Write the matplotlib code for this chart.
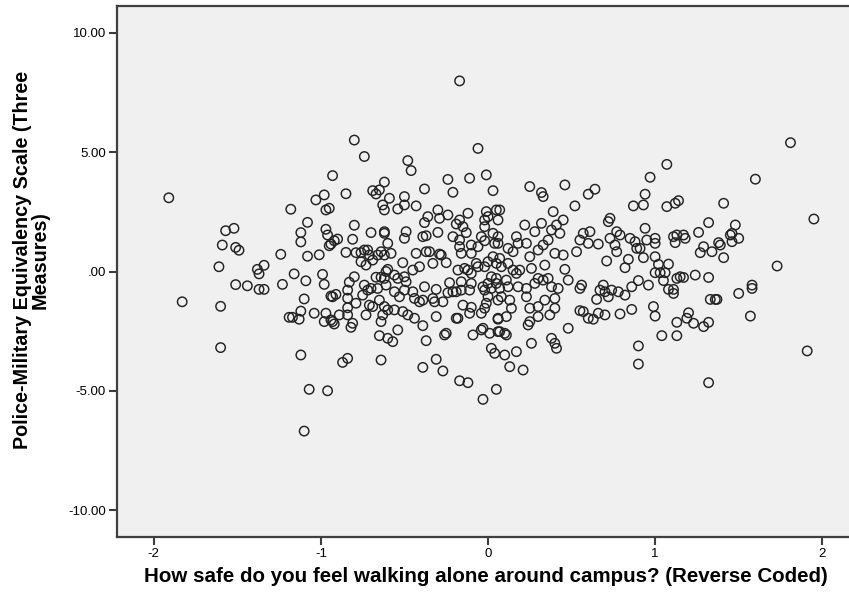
import matplotlib
matplotlib.use("Agg")
import matplotlib.pyplot as plt
import numpy as np

# safety (reverse coded), police-military equivalency scale
safety = [
    -1.91, -1.57, -1.52, -1.59, -1.51, -1.49, -1.61, -1.38, -1.37, -1.51, -1.44, -1.37, -1.83, -1.60, -1.60,
    -0.80, -0.93, -0.85, -1.03, -0.98, -1.18, -0.97, -0.95, -1.08, -1.12, -1.12, -0.97, -0.96, -0.90, -0.92,
    -0.95, -0.94, -0.81, -0.80, -0.85, -0.79, -1.24, -1.08, -1.01, -1.34, -1.34, -1.23, -1.16, -1.09, -0.99,
    -0.98, -1.10, -1.12, -1.19, -1.17, -1.13, -1.04, -0.97, -0.98, -0.94, -0.91, -0.93, -0.94, -0.92, -0.93,
    -0.89, -0.84, -0.84, -0.84, -0.84, -0.83, -0.80, -0.82, -0.81, -0.79, -1.12, -0.87, -0.84, -1.07, -0.96, -1.10,
    -0.74, -0.48, -0.46, -0.62, -0.69, -0.67, -0.65, -0.59, -0.50, -0.50, -0.43, -0.38, -0.63, -0.62, -0.54,
    -0.70, -0.62, -0.62, -0.49, -0.50, -0.38, -0.36, -0.39, -0.37, -0.60, -0.76, -0.74, -0.72, -0.71, -0.76,
    -0.73, -0.69, -0.66, -0.64, -0.62, -0.58, -0.51, -0.43, -0.41, -0.37, -0.45, -0.60, -0.62, -0.61, -0.56,
    -0.54, -0.50, -0.49, -0.67, -0.64, -0.74, -0.72, -0.70, -0.75, -0.66, -0.61, -0.56, -0.53, -0.50, -0.45,
    -0.44, -0.41, -0.39, -0.38, -0.71, -0.69, -0.73, -0.65, -0.62, -0.60, -0.56, -0.63, -0.64, -0.51, -0.48,
    -0.44, -0.39, -0.54, -0.65, -0.60, -0.57, -0.37, -0.64, -0.39,
    -0.17, -0.06, -0.01, -0.24, -0.11, -0.21, 0.03, -0.30, -0.29, -0.24, -0.30, -0.21, -0.12, -0.17, -0.19,
    -0.15, -0.13, -0.01, 0.00, -0.02, -0.02, 0.05, 0.06, -0.04, -0.02, -0.06, 0.03, 0.04, -0.17, -0.17,
    -0.16, -0.10, -0.10, -0.35, -0.33, -0.29, -0.28, -0.25, -0.18, -0.14, -0.12, -0.10, -0.07, -0.06, -0.02,
    0.00, 0.03, 0.05, -0.16, -0.10, -0.11, -0.16, -0.15, -0.10, -0.11, -0.23, -0.21, -0.24, -0.19, -0.31,
    -0.33, -0.32, -0.27, -0.31, -0.26, -0.25, -0.19, -0.18, -0.04, -0.02, -0.01, 0.00, -0.03, -0.02, 0.02,
    0.02, 0.00, 0.05, 0.06, -0.09, -0.04, -0.03, 0.01, 0.06, 0.06, 0.02, 0.04, -0.31, -0.27, -0.17,
    -0.12, -0.03, 0.05,
    0.25, 0.32, 0.33, 0.46, 0.07, 0.39, 0.45, 0.41, 0.43, 0.38, 0.36, 0.32, 0.28, 0.22, 0.06,
    0.06, 0.17, 0.18, 0.23, 0.12, 0.15, 0.25, 0.30, 0.33, 0.40, 0.45, 0.07, 0.08, 0.12, 0.15,
    0.17, 0.19, 0.26, 0.34, 0.46, 0.48, 0.05, 0.07, 0.11, 0.12, 0.18, 0.23, 0.28, 0.30, 0.33,
    0.36, 0.38, 0.42, 0.08, 0.13, 0.14, 0.23, 0.25, 0.30, 0.34, 0.40, 0.40, 0.37, 0.30, 0.25,
    0.24, 0.06, 0.11, 0.07, 0.10, 0.11, 0.48, 0.26, 0.38, 0.40, 0.41, 0.10, 0.17, 0.13, 0.21,
    0.60, 0.64, 0.52, 0.73, 0.72, 0.87, 0.57, 0.61, 0.55, 0.60, 0.66, 0.53, 0.73, 0.77, 0.79,
    0.76, 0.77, 0.85, 0.88, 0.89, 0.71, 0.84, 0.82, 0.55, 0.56, 0.67, 0.69, 0.70, 0.74, 0.78,
    0.82, 0.86, 0.90, 0.65, 0.72, 0.55, 0.57, 0.60, 0.63, 0.66, 0.70, 0.79, 0.86, 0.90, 0.90,
    1.07, 0.97, 0.94, 0.93, 1.07, 1.12, 1.14, 0.94, 0.91, 0.93, 0.95, 1.00, 1.00, 1.11, 1.13,
    1.12, 1.17, 1.18, 1.26, 1.27, 1.29, 1.32, 1.00, 1.02, 1.08, 1.00, 1.03, 1.06, 1.05, 1.08,
    1.11, 1.11, 1.13, 1.15, 1.17, 1.24, 1.32, 0.96, 0.99, 1.00, 1.20, 1.19, 1.13, 1.23, 1.29,
    1.32, 1.04, 1.13, 1.32,
    1.81, 1.60, 1.41, 1.95, 1.48, 1.46, 1.45, 1.50, 1.46, 1.38, 1.39, 1.34, 1.41, 1.73, 1.33,
    1.36, 1.37, 1.50, 1.58, 1.58, 1.57, 1.91,
]
equivalency = [
    3.09, 1.71, 1.81, 1.11, 1.01, 0.89, 0.20, 0.09, -0.10, -0.55, -0.60, -0.75, -1.27, -1.46, -3.19,
    5.51, 4.02, 3.26, 3.00, 3.21, 2.61, 2.58, 2.65, 2.06, 1.63, 1.24, 1.77, 1.53, 1.36, 1.29,
    1.08, 1.15, 1.35, 1.94, 0.80, 0.79, 0.72, 0.64, 0.70, 0.26, -0.75, -0.54, -0.10, -0.39, -0.12,
    -0.54, -1.15, -1.66, -1.92, -1.92, -2.00, -1.75, -1.75, -2.10, -1.03, -0.96, -1.06, -2.03, -2.20, -2.10,
    -1.82, -0.78, -1.12, -1.52, -1.82, -0.45, -0.22, -2.34, -2.17, -1.33, -3.50, -3.81, -3.64, -4.94, -5.00, -6.69,
    4.82, 4.65, 4.23, 3.75, 3.39, 3.25, 3.42, 3.07, 3.14, 2.79, 2.75, 3.46, 2.79, 2.58, 2.62,
    1.63, 1.67, 1.60, 1.67, 1.39, 2.05, 2.30, 1.46, 1.50, 1.18, 0.79, 0.90, 0.90, 0.69, 0.41,
    0.27, 0.48, 0.69, 0.83, 0.69, 0.76, 0.37, 0.76, 0.20, 0.83, 0.06, 0.09, -0.29, 0.00, -0.15,
    -0.29, -0.22, -0.43, -0.24, -0.24, -0.57, -0.78, -0.71, -0.99, -0.71, -0.57, -0.85, -1.06, -0.78, -0.85,
    -1.13, -1.27, -1.20, -0.64, -1.41, -1.47, -1.82, -1.20, -1.47, -1.61, -1.61, -1.82, -2.10, -1.68, -1.82,
    -1.96, -2.27, -2.45, -2.69, -2.80, -2.94, -2.90, -3.71, -4.02,
    7.99, 5.16, 4.05, 3.86, 3.91, 3.32, 3.39, 2.58, 2.23, 2.37, 1.64, 1.46, 2.44, 2.16, 1.99,
    1.88, 1.63, 2.51, 2.30, 2.16, 1.88, 2.58, 2.16, 1.46, 1.29, 1.04, 1.60, 1.18, 1.32, 1.04,
    0.76, 1.11, 0.76, 0.83, 0.34, 0.73, 0.69, 0.37, 0.06, 0.13, 0.06, -0.08, 0.34, 0.20, 0.20,
    0.41, 0.62, 0.34, -0.43, -0.50, -0.78, -0.78, -1.41, -1.50, -1.75, -0.47, -0.85, -0.89, -0.85, -0.75,
    -1.13, -1.27, -1.27, -1.89, -2.66, -2.59, -1.96, -1.96, -1.75, -1.54, -1.33, -1.05, -0.64, -0.78, -0.71,
    -0.22, -0.50, -0.50, -1.20, -2.66, -2.45, -2.38, -2.59, -2.52, -2.00, -3.22, -3.43, -3.68, -4.17, -4.58,
    -4.66, -5.36, -4.94,
    3.56, 3.31, 3.14, 3.63, 2.58, 2.51, 2.16, 1.95, 1.60, 1.74, 1.32, 2.02, 1.67, 1.95, 1.46,
    1.18, 1.46, 1.18, 1.18, 0.97, 0.83, 0.62, 0.90, 1.11, 0.76, 0.69, 0.55, 0.20, 0.34, 0.06,
    -0.08, 0.06, 0.13, 0.27, 0.09, -0.36, -0.29, -0.71, -0.36, -0.64, -0.64, -0.71, -0.50, -0.29, -0.36,
    -0.29, -0.64, -0.71, -1.06, -1.20, -1.54, -1.06, -1.54, -1.47, -1.20, -1.13, -1.54, -1.82, -1.89, -2.10,
    -2.24, -1.96, -1.89, -2.52, -2.59, -2.66, -2.38, -3.01, -2.80, -3.01, -3.22, -3.50, -3.36, -3.99, -4.13,
    3.24, 3.45, 2.75, 2.23, 2.09, 2.75, 1.60, 1.67, 1.32, 1.18, 1.15, 0.83, 1.39, 1.67, 1.53,
    1.11, 0.83, 1.39, 1.25, 0.97, 0.44, 0.51, 0.16, -0.71, -0.57, -0.78, -0.57, -0.85, -0.78, -0.85,
    -0.99, -0.64, -0.38, -1.17, -1.06, -1.64, -1.68, -1.96, -2.00, -1.75, -1.82, -1.78, -1.59, -3.12, -3.88,
    4.49, 3.95, 3.24, 2.79, 2.72, 2.86, 2.97, 1.81, 0.97, 0.58, 1.32, 1.39, 1.18, 1.46, 1.53,
    1.21, 1.53, 1.39, 1.64, 0.79, 1.04, 2.05, 0.62, 0.30, 0.31, -0.05, -0.05, -0.05, -0.38, -0.75,
    -0.75, -0.92, -0.29, -0.22, -0.25, -0.15, -0.25, -0.57, -1.47, -1.87, -1.73, -1.96, -2.13, -2.17, -2.31,
    -2.13, -2.69, -2.69, -4.66,
    5.40, 3.87, 2.86, 2.20, 1.95, 1.60, 1.53, 1.39, 1.25, 1.21, 1.11, 0.83, 0.58, 0.23, -1.17,
    -1.17, -1.17, -0.92, -0.71, -0.57, -1.87, -3.33,
]

x_ticks = [-2, -1, 0, 1, 2]
x_ticklabels = ["-2", "-1", "0", "1", "2"]
y_ticks = [-10, -5, 0, 5, 10]
y_ticklabels = ["-10.00", "-5.00", ".00", "5.00", "10.00"]

plt.rcParams['font.family'] = ['Liberation Sans', 'DejaVu Sans']
plt.rcParams['axes.unicode_minus'] = False

W, H = 849, 604
fig = plt.figure(figsize=(W / 100, H / 100), dpi=100)
# plot frame runs a little past the right edge of the picture
ax = fig.add_axes([117 / W, 1 - 537 / H, 742 / W, 531 / H])
ax.set_facecolor('#f0f0f0')

ax.scatter(safety, equivalency, s=46, facecolors='none', edgecolors='#222222', linewidths=1.05)

ax.set_xlim(-2.22, 2.22)
ax.set_ylim(-11.13, 11.13)
ax.set_xticks(x_ticks)
ax.set_xticklabels(x_ticklabels)
ax.set_yticks(y_ticks)
ax.set_yticklabels(y_ticklabels)
ax.tick_params(direction='out', length=6, width=1.5, color='#3c3c3c', labelsize=9.5, pad=2)

for sp in ax.spines.values():
    sp.set_color('#404040')
    sp.set_linewidth(1.6)

fig.text(486 / W, 1 - 576 / H, "How safe do you feel walking alone around campus? (Reverse Coded)",
         ha='center', va='center', fontsize=14.8, fontweight='bold')
fig.text(31 / W, 1 - 260 / H, "Police-Military Equivalency Scale (Three\nMeasures)",
         ha='center', va='center', rotation=90, multialignment='center',
         fontsize=14.2, fontweight='bold', linespacing=0.92)

fig.savefig('out.png', dpi=100)
